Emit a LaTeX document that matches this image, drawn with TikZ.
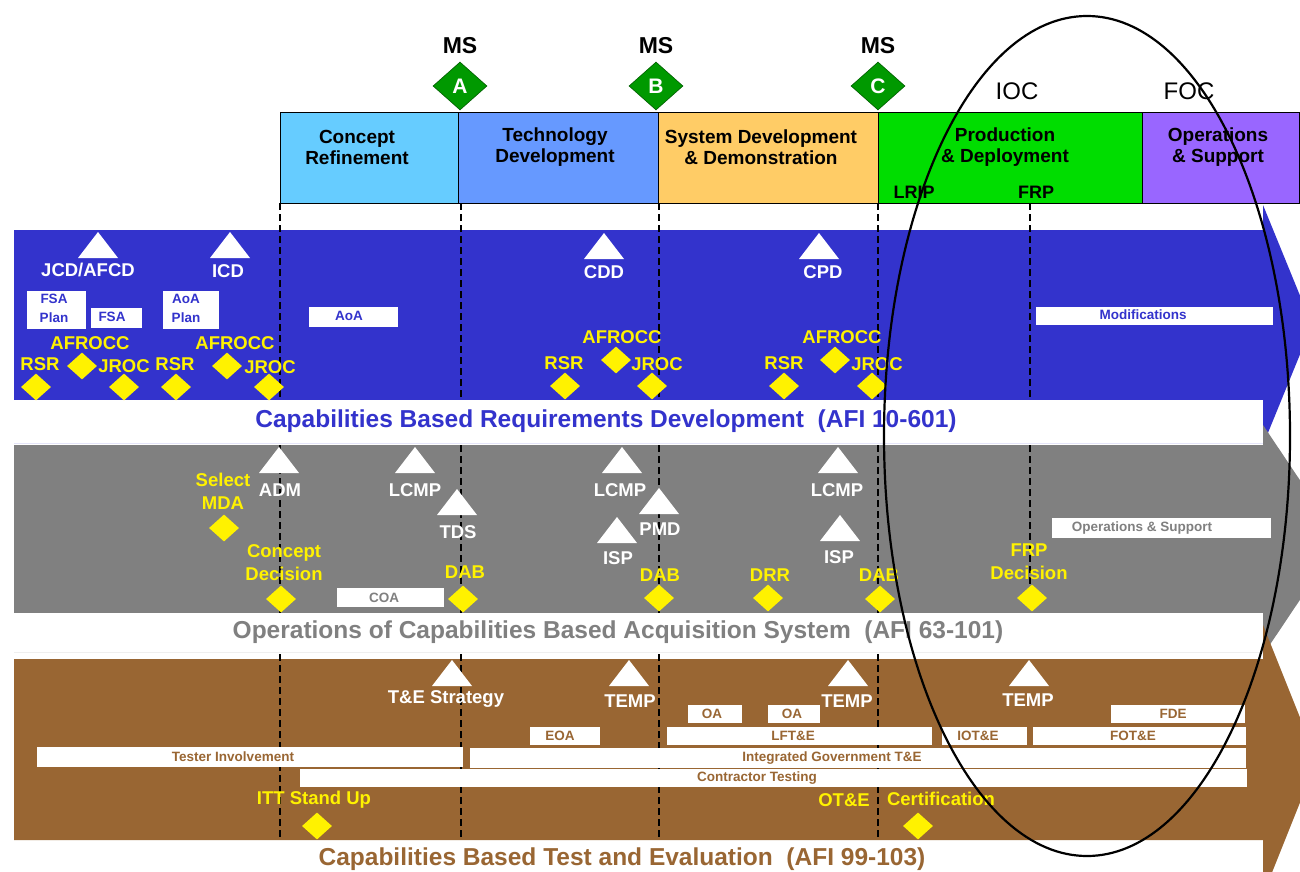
\documentclass[tikz,border=0pt]{standalone}
\usepackage{fontspec}
\setmainfont{Liberation Sans}
\usetikzlibrary{shapes.geometric}

\definecolor{crblue}{HTML}{66CCFF}
\definecolor{tdblue}{HTML}{6699FF}
\definecolor{sddorange}{HTML}{FFCC66}
\definecolor{pdgreen}{HTML}{00DD00}
\definecolor{ospurple}{HTML}{9966FF}
\definecolor{msgreen}{HTML}{009900}
\definecolor{reqblue}{HTML}{3333CC}
\definecolor{acqgrey}{HTML}{808080}
\definecolor{tebrown}{HTML}{996633}

\newcommand{\pxfont}[2]{\fontsize{#1}{#2}\selectfont}

\begin{document}
\begin{tikzpicture}[x=1pt, y=-1pt,
    phasebox/.style={draw=black, line width=0.8pt},
    phasetext/.style={inner sep=0, align=center, font=\bfseries\pxfont{19}{21}},
    mslabel/.style={inner sep=0, font=\bfseries\pxfont{23}{23}},
    msdia/.style={diamond, draw=msgreen!60!black, line width=0.6pt, fill=msgreen, inner sep=0,
        minimum width=54, minimum height=48, text=white, font=\bfseries\pxfont{21}{21}},
    ocmark/.style={inner sep=0, font=\pxfont{24}{24}},
    ratemark/.style={inner sep=0, font=\bfseries\pxfont{18}{18}},
    msline/.style={line width=2.7pt, dash pattern=on 7pt off 4pt},
    bandtitle/.style={inner sep=0, font=\bfseries\pxfont{24.5}{24.5}},
    boxtext/.style={inner sep=0, align=center, font=\bfseries\pxfont{13.5}{19}},
    doclabel/.style={inner sep=0, text=white, font=\bfseries\pxfont{18.5}{20}, text height=13.5pt, text depth=0pt},
    event/.style={diamond, fill=yellow, inner sep=0, minimum width=30, minimum height=27},
    eventlabel/.style={inner sep=0, text=yellow, font=\bfseries\pxfont{18.5}{23}, text height=13.5pt, text depth=0pt},
    eventtwo/.style={inner sep=0, text=yellow, align=center, font=\bfseries\pxfont{18.5}{23}}]

\useasboundingbox (0,0) rectangle (1300,872);

% Phases
\foreach \xa/\xb/\c in {280/458/crblue, 458/658/tdblue, 658/878/sddorange, 878/1142/pdgreen, 1142/1299/ospurple}
    \draw[phasebox, fill=\c] (\xa,112) rectangle (\xb,203);
\node[phasetext] (cr) at (357,147) {Concept\\Refinement};
\node[phasetext] (td) at (555,147) {Technology\\Development};
\node[phasetext] (sdd) at (761,147) {System Development\\\& Demonstration};
\node[phasetext] (pd) at (1005,147) {Production\\\& Deployment};
\node[phasetext] (os) at (1218,147) {Operations\\\& Support};

% Milestones
\foreach \m/\x in {A/460, B/656, C/878} {
    \node[msdia] (ms\m) at (\x,86) {\m};
    \node[mslabel] (mstext\m) at (\x,46) {MS};
}
\node[ocmark] (ioc) at (1017,91) {IOC};
\node[ocmark] (foc) at (1189,91) {FOC};
\node[ratemark] (lrip) at (914,192) {LRIP};
\node[ratemark] (frp) at (1036,192) {FRP};

% Bands
\fill[reqblue] (14,230) -- (1263,230) -- (1263,205) -- (1312,325) -- (1263,445) -- (1263,443) -- (14,443) -- cycle;
\fill[acqgrey] (14,445) -- (1263,445) -- (1263,425) -- (1340,540) -- (1263,655) -- (1263,652) -- (14,652) -- cycle;
\fill[tebrown] (14,659) -- (1263,659) -- (1263,625) -- (1317,760) -- (1263,895) -- (1263,840) -- (14,840) -- cycle;

% Milestone lines
\foreach \n/\x in {cr/280, a/461, b/659, c/878} {
    \coordinate (top\n) at (\x,203);
    \coordinate (bot\n) at (\x,840);
    \draw[msline] (top\n) -- (bot\n);
}
\coordinate (topfrp) at (1030,203);
\coordinate (botfrp) at (1030,598);
\draw[msline] (topfrp) -- (botfrp);

% Band titles
\fill[white] (12,400) rectangle (1263,443);
\fill[white] (12,613) rectangle (1263,652);
\node[bandtitle, text=reqblue] (reqtitle) at (606,421) {Capabilities Based Requirements Development\ \ (AFI 10-601)};
\node[bandtitle, text=acqgrey] (acqtitle) at (618,632) {Operations of Capabilities Based Acquisition System\ \ (AFI 63-101)};
\node[bandtitle, text=tebrown] (tetitle) at (622,859) {Capabilities Based Test and Evaluation\ \ (AFI 99-103)};

% Activity boxes
\foreach \xa/\ya/\xb/\yb in {27/291/86/329, 91/308/142/328, 163/291/219/329, 309/307/398/327, 1036/307/1273/325,
        337/588/444/607, 1052/518/1271/538,
        688/705/742/723, 768/705/820/723, 1111/705/1245/723, 530/727/600/745, 667/727/932/745,
        942/727/1027/745, 1033/727/1246/745, 37/747/463/767, 470/748/1246/768, 300/769/1247/787}
    \fill[white] (\xa,\ya) rectangle (\xb,\yb);
\node[boxtext, text=reqblue] (fsaplan) at (54,308) {FSA\\Plan};
\node[boxtext, text=reqblue] (fsa) at (112,317) {FSA};
\node[boxtext, text=reqblue] (aoaplan) at (186,308) {AoA\\Plan};
\node[boxtext, text=reqblue] (aoa) at (349,316) {AoA};
\node[boxtext, text=reqblue] (mods) at (1143,315) {Modifications};
\node[boxtext, text=acqgrey] (coa) at (384,598) {COA};
\node[boxtext, text=acqgrey] (opsup) at (1142,528) {Operations \& Support};
\foreach \n/\x/\y/\t in {oaa/712/714/OA, oab/792/714/OA, fde/1173/714/FDE, eoa/560/736/EOA, lfte/793/736/LFT\&E,
        iote/978/736/IOT\&E, fote/1133/736/FOT\&E, tester/233/757/Tester Involvement,
        igte/832/758/Integrated Government T\&E, contractor/757/778/Contractor Testing}
    \node[boxtext, text=tebrown] (\n) at (\x,\y) {\t};

% Documents
\foreach \x/\y in {98/245, 230/245, 604/246, 819/246, 279/460, 415/460, 457/502, 622/460, 659/501, 617/530,
        838/460, 840/528, 452/673, 629/673, 848/673, 1029/673}
    \fill[white] (\x,\y) ++(-20,13) -- ++(20,-26) -- ++(20,26) -- cycle;
\foreach \n/\x/\y/\t in {jcd/88/270/{JCD/AFCD}, icd/228/271/ICD, cdd/604/272/CDD, cpd/823/272/CPD,
        adm/280/490/ADM, lcmpa/415/490/LCMP, tds/458/532/TDS, lcmpb/620/490/LCMP, pmd/660/529/PMD,
        ispa/618/558/ISP, lcmpc/837/490/LCMP, ispb/839/557/ISP,
        testrat/446/697/T\&E Strategy, tempa/630/701/TEMP, tempb/847/701/TEMP, tempc/1028/700/TEMP}
    \node[doclabel] (\n) at (\x,\y) {\t};

% Events
\foreach \n/\x/\y in {ea/36/387, eb/82/366, ec/124/387, ed/176/387, ee/227/366, ef/269/387,
        eg/565/386, eh/616/360, ei/652/386, ej/784/386, ek/835/360, el/872/386,
        em/224/528, en/281/599, eo/463/599, ep/659/598, eq/768/598, er/880/599, es/1032/598,
        et/317/826, eu/918/826}
    \node[event] (\n) at (\x,\y) {};
\foreach \n/\x/\y/\t in {afrocca/90/343/AFROCC, rsra/40/364/RSR, jroca/124/366/JROC,
        rsrb/175/364/RSR, afroccb/235/343/AFROCC, jrocb/270/367/JROC,
        afroccc/622/337/AFROCC, rsrc/564/363/RSR, jrocc/657/364/JROC,
        afroccd/842/337/AFROCC, rsrd/784/363/RSR, jrocd/877/364/JROC,
        daba/465/572/DAB, dabb/660/575/DAB, drr/770/575/DRR, dabc/879/575/DAB,
        ittsu/314/798/ITT Stand Up, ote/844/800/OT\&E, cert/941/799/Certification}
    \node[eventlabel] (\n) at (\x,\y) {\t};
\node[eventtwo] (selmda) at (223,491) {Select\\MDA};
\node[eventtwo] (condec) at (284,563) {Concept\\Decision};
\node[eventtwo] (frpdec) at (1029,562) {FRP\\Decision};

% IOC/FOC window
\draw[line width=2.2pt] (1087,436) ellipse [x radius=203, y radius=420];

\end{tikzpicture}
\end{document}
